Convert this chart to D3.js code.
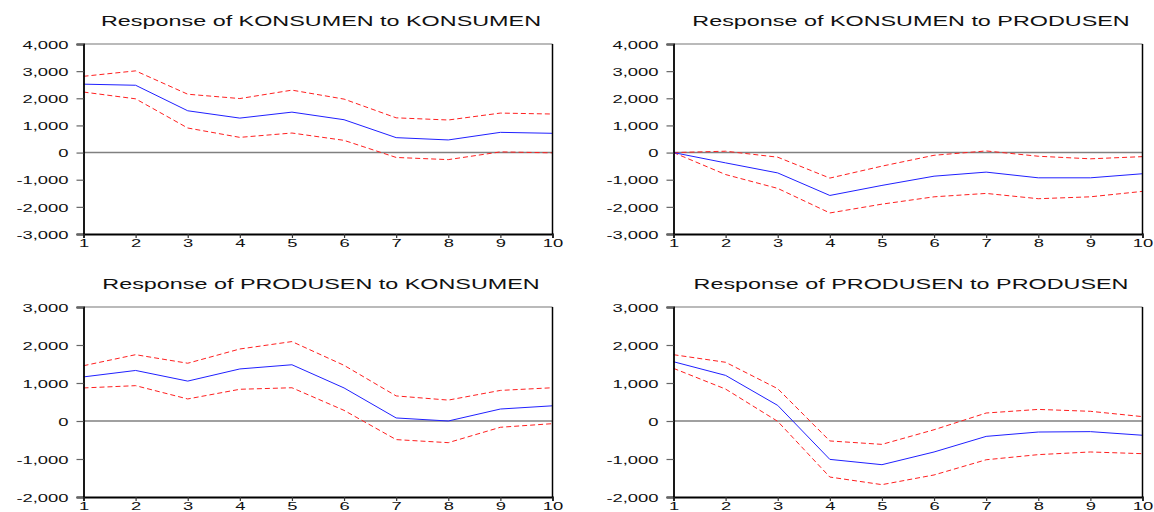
<!DOCTYPE html>
<html>
<head>
<meta charset="utf-8">
<script src="https://cdn.jsdelivr.net/npm/d3@7"></script>
<style>
  html, body { margin: 0; padding: 0; background: #fff; }
  svg { display: block; font-family: "Liberation Sans", Arial, sans-serif; }
</style>
</head>
<body>
<svg id="chart" width="1154" height="512"></svg>
<script>
// Impulse response periods
const periods = [1, 2, 3, 4, 5, 6, 7, 8, 9, 10];

// Response of KONSUMEN to KONSUMEN
const kkResp  = [2520, 2480, 1540, 1270, 1490, 1210, 550, 465, 745, 710];
const kkUpper = [2810, 3010, 2150, 1990, 2300, 1970, 1280, 1200, 1455, 1420];
const kkLower = [2230, 1980, 905, 560, 720, 450, -180, -260, 25, -10];

// Response of KONSUMEN to PRODUSEN
const kpResp  = [0, -380, -750, -1580, -1210, -870, -720, -930, -930, -780];
const kpUpper = [0, 50, -170, -940, -500, -100, 60, -135, -230, -150];
const kpLower = [0, -810, -1320, -2225, -1900, -1630, -1505, -1700, -1630, -1430];

// Response of PRODUSEN to KONSUMEN
const pkResp  = [1160, 1330, 1050, 1370, 1480, 870, 80, 0, 315, 400];
const pkUpper = [1455, 1745, 1520, 1895, 2090, 1465, 660, 550, 805, 875];
const pkLower = [870, 930, 580, 835, 875, 280, -490, -570, -165, -70];

// Response of PRODUSEN to PRODUSEN
const ppResp  = [1560, 1200, 410, -1010, -1150, -815, -405, -290, -280, -375];
const ppUpper = [1745, 1545, 850, -525, -615, -230, 210, 305, 255, 115];
const ppLower = [1385, 840, -10, -1475, -1675, -1420, -1020, -885, -815, -860];

// Axis tick values
const topRowTicks = [-3000, -2000, -1000, 0, 1000, 2000, 3000, 4000];
const bottomRowTicks = [-2000, -1000, 0, 1000, 2000, 3000];

const panels = [
  { title: "Response of KONSUMEN to KONSUMEN", resp: kkResp, upper: kkUpper, lower: kkLower, ticks: topRowTicks, col: 0, row: 0 },
  { title: "Response of KONSUMEN to PRODUSEN", resp: kpResp, upper: kpUpper, lower: kpLower, ticks: topRowTicks, col: 1, row: 0 },
  { title: "Response of PRODUSEN to KONSUMEN", resp: pkResp, upper: pkUpper, lower: pkLower, ticks: bottomRowTicks, col: 0, row: 1 },
  { title: "Response of PRODUSEN to PRODUSEN", resp: ppResp, upper: ppUpper, lower: ppLower, ticks: bottomRowTicks, col: 1, row: 1 }
];

const colX = [[83.5, 552.5], [673.5, 1142.5]];
const rowY = [[44, 234], [307, 497]];

const titleScale = 1.67;   // wide, stretched lettering
const tickScale = 1.6;

const fmt = d3.formatLocale({ decimal: ".", thousands: ",", grouping: [3], currency: ["", ""], minus: "-" }).format(",");

const svg = d3.select("#chart");

panels.forEach(p => {
  const [x0, x1] = colX[p.col];
  const [y0, y1] = rowY[p.row];
  const x = d3.scaleLinear().domain([1, 10]).range([x0, x1]);
  const y = d3.scaleLinear().domain(d3.extent(p.ticks)).range([y1, y0]);
  const g = svg.append("g");

  // top border
  g.append("line").attr("x1", x0).attr("x2", x1).attr("y1", y0).attr("y2", y0)
    .attr("stroke", "#777").attr("stroke-width", 1.2);

  // zero line
  g.append("line").attr("x1", x0).attr("x2", x1).attr("y1", y(0)).attr("y2", y(0))
    .attr("stroke", "#808080").attr("stroke-width", 1.5);

  // confidence bands (dashed) and response (solid)
  const line = d3.line().x((d, i) => x(periods[i])).y(d => y(d));
  [p.upper, p.lower].forEach(band => {
    g.append("path").datum(band).attr("d", line)
      .attr("fill", "none").attr("stroke", "#ff2020").attr("stroke-width", 1)
      .attr("stroke-dasharray", "5,3");
  });
  g.append("path").datum(p.resp).attr("d", line)
    .attr("fill", "none").attr("stroke", "#2020ff").attr("stroke-width", 1);

  // right border
  g.append("line").attr("x1", x1).attr("x2", x1).attr("y1", y0).attr("y2", y1)
    .attr("stroke", "#000").attr("stroke-width", 1.5);

  // y axis
  const ya = g.append("g").attr("transform", `translate(${x0},0)`)
    .call(d3.axisLeft(y).tickValues(p.ticks).tickSize(7).tickFormat(fmt));
  ya.select(".domain").attr("stroke", "#000").attr("stroke-width", 1.8);
  ya.selectAll(".tick line").attr("stroke", "#666").attr("stroke-width", 1.2);
  ya.selectAll(".tick text")
    .attr("x", -15 / tickScale).attr("dy", "0.36em")
    .attr("transform", `scale(${tickScale},1)`)
    .attr("font-size", 11.5).attr("fill", "#111");

  // x axis
  const xa = g.append("g").attr("transform", `translate(0,${y1})`)
    .call(d3.axisBottom(x).tickValues(periods).tickSize(4).tickFormat(d3.format("d")));
  xa.select(".domain").attr("stroke", "#000").attr("stroke-width", 1.8);
  xa.selectAll(".tick line").attr("stroke", "#333").attr("stroke-width", 1.2);
  xa.selectAll(".tick text")
    .attr("y", 5).attr("dy", "0.71em")
    .attr("transform", `scale(${tickScale},1)`)
    .attr("font-size", 11.5).attr("fill", "#111");

  // panel title
  g.append("text")
    .attr("transform", `translate(${(x0 + x1) / 2 + 3},${y0 - 18}) scale(${titleScale},1)`)
    .attr("text-anchor", "middle")
    .attr("font-size", 14).attr("fill", "#111")
    .text(p.title);
});
</script>
</body>
</html>
